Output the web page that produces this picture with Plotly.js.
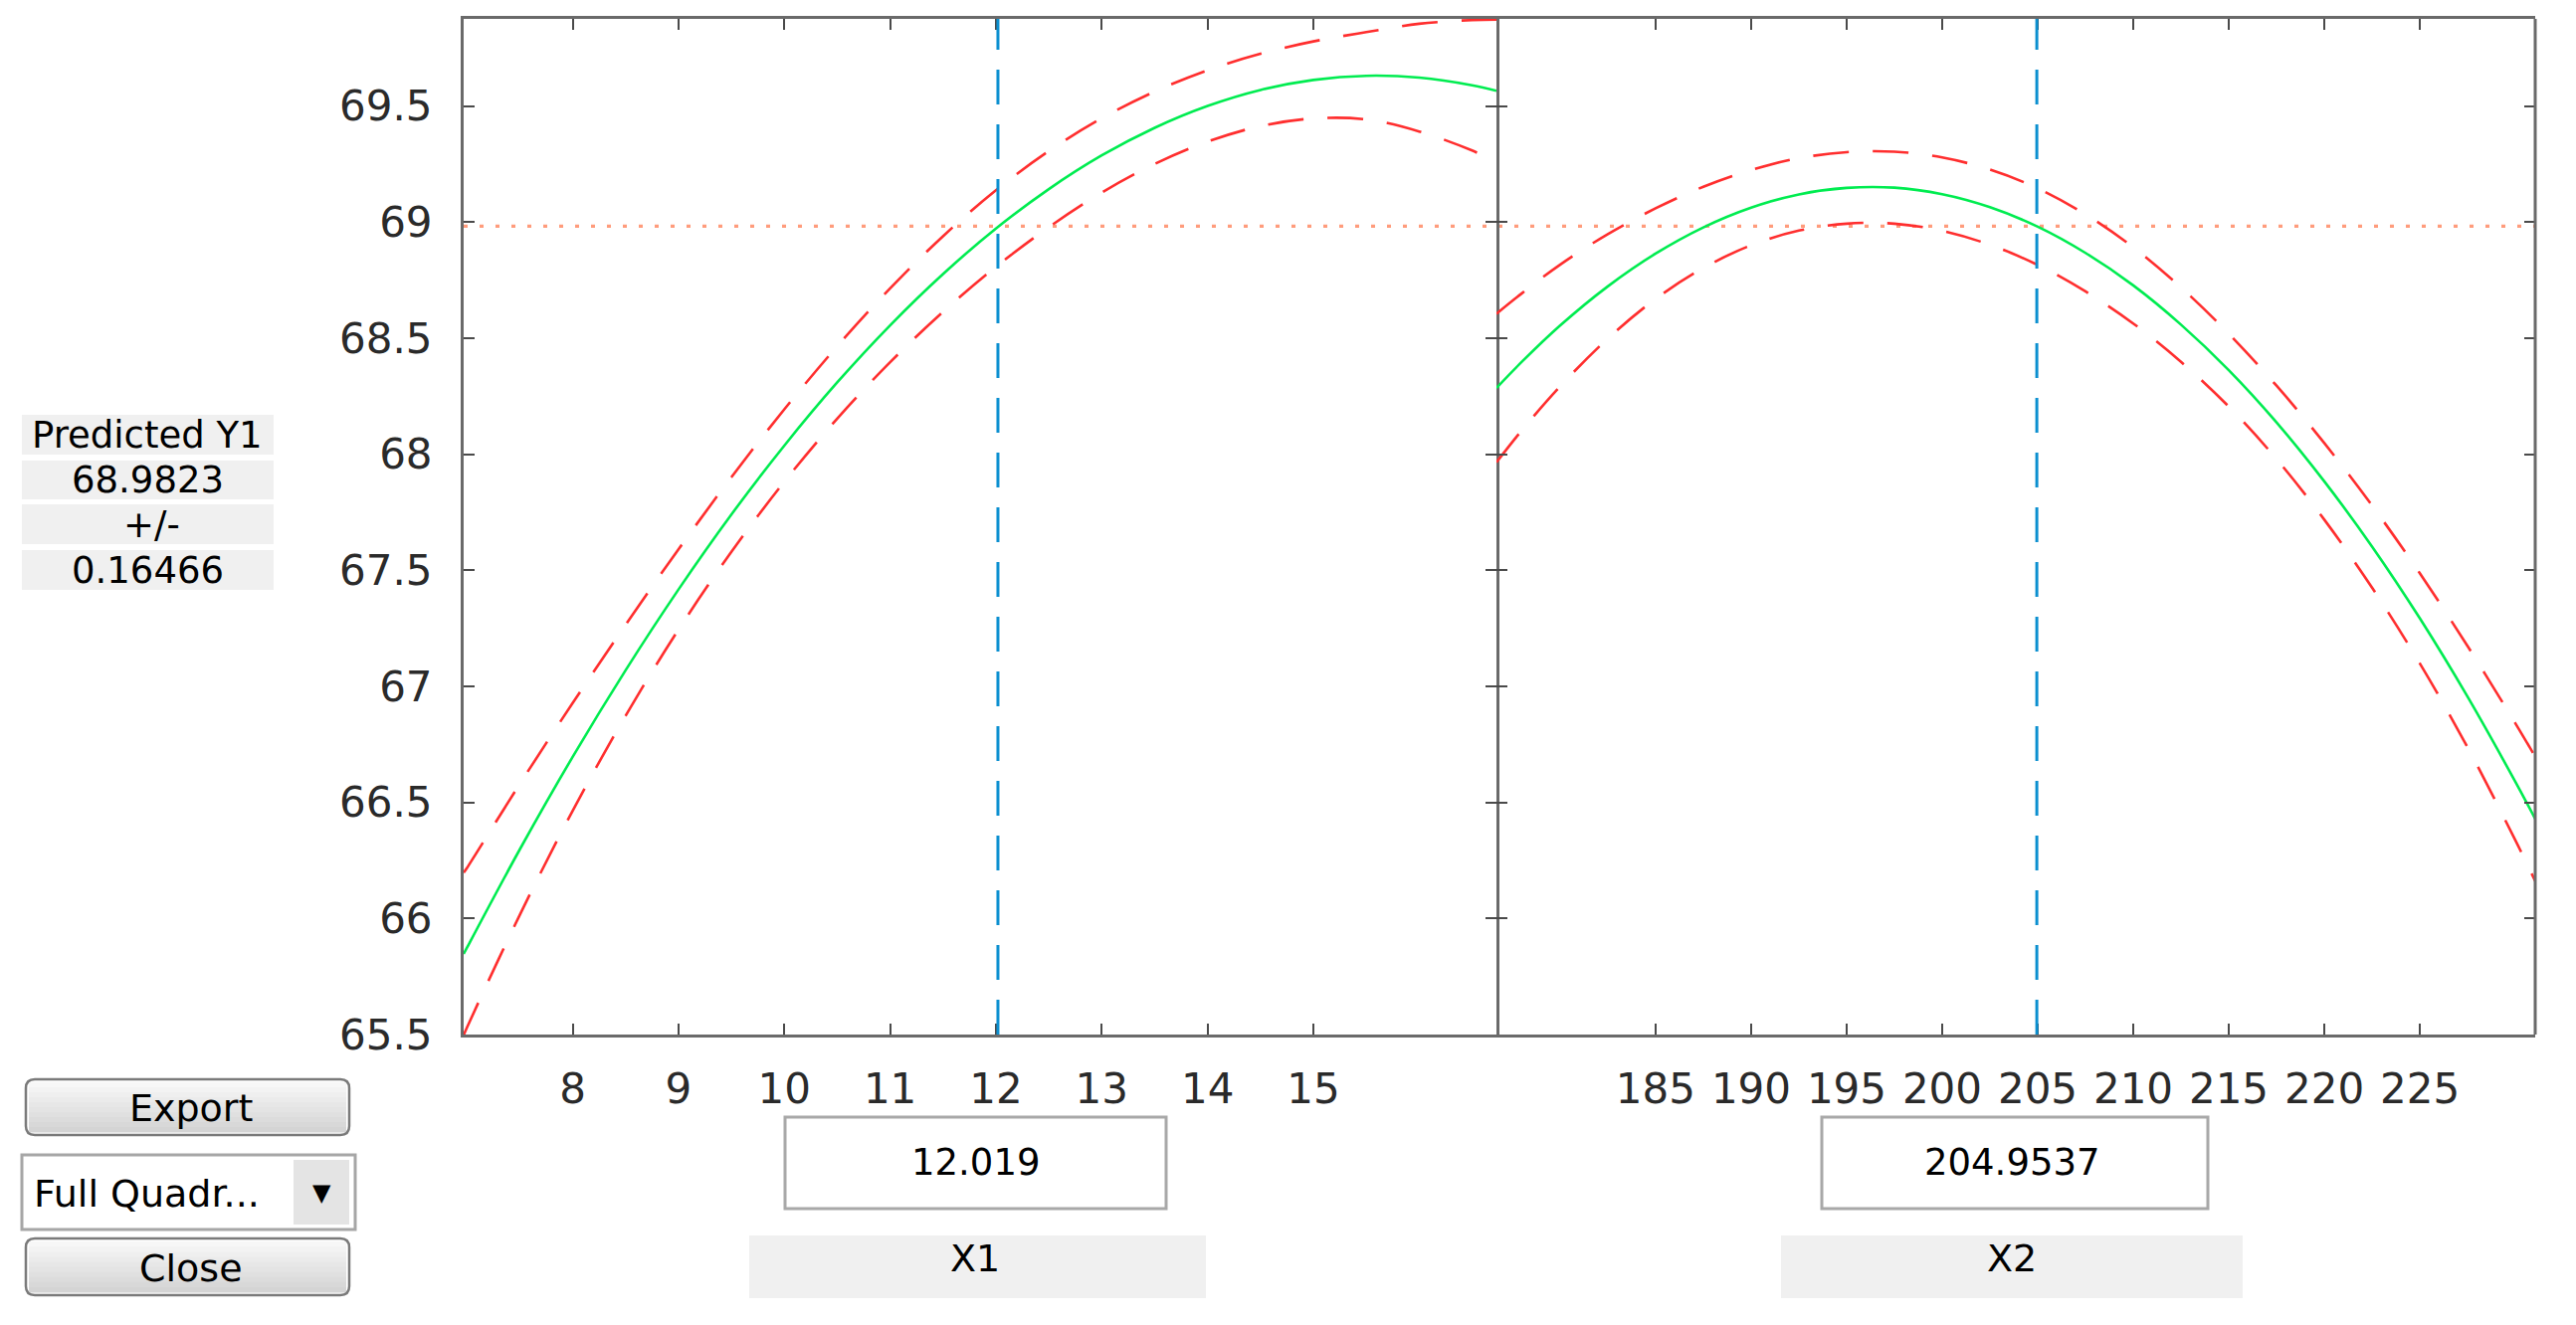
<!DOCTYPE html>
<html>
<head>
<meta charset="utf-8">
<script src="https://cdn.plot.ly/plotly-3.0.1.min.js"></script>
<style>html,body{margin:0;padding:0;background:#fff;}#chart{width:2589px;height:1332px;}</style>
</head>
<body>
<div id="chart"></div>
<script>
// ---------------- data ----------------
const x1Vals  = [6.97, 7, 7.5, 8, 8.5, 9, 9.5, 10, 10.5, 11, 11.5, 12, 12.5, 13, 13.5, 14, 14.5, 15, 15.5, 16, 16.5, 16.73];
const x1Mean  = [65.847, 65.873, 66.297, 66.696, 67.069, 67.417, 67.740, 68.037, 68.309, 68.555, 68.776, 68.972, 69.142, 69.287, 69.406, 69.500, 69.569, 69.612, 69.630, 69.622, 69.589, 69.565];
const x1Upper = [66.197, 66.217, 66.579, 66.928, 67.265, 67.590, 67.901, 68.193, 68.465, 68.714, 68.939, 69.137, 69.306, 69.447, 69.562, 69.654, 69.725, 69.778, 69.818, 69.854, 69.870, 69.872];
const x1Lower = [65.497, 65.529, 66.015, 66.464, 66.873, 67.244, 67.579, 67.881, 68.153, 68.396, 68.613, 68.807, 68.978, 69.127, 69.250, 69.346, 69.413, 69.446, 69.442, 69.390, 69.308, 69.258];

const x2Vals  = [176.67, 178, 180, 182.5, 185, 187.5, 190, 192.5, 195, 197.5, 200, 202.5, 205, 207.5, 210, 212.5, 215, 217.5, 220, 222.5, 225, 227.5, 230, 231.04];
const x2Mean  = [68.285, 68.398, 68.554, 68.723, 68.864, 68.977, 69.062, 69.119, 69.147, 69.148, 69.120, 69.064, 68.980, 68.867, 68.727, 68.558, 68.362, 68.137, 67.883, 67.602, 67.293, 66.955, 66.589, 66.429];
const x2Upper = [68.605, 68.693, 68.816, 68.948, 69.059, 69.152, 69.224, 69.275, 69.301, 69.303, 69.278, 69.226, 69.145, 69.033, 68.891, 68.718, 68.519, 68.295, 68.048, 67.779, 67.487, 67.173, 66.841, 66.697];
const x2Lower = [67.965, 68.103, 68.292, 68.498, 68.669, 68.802, 68.900, 68.963, 68.993, 68.993, 68.962, 68.902, 68.815, 68.701, 68.563, 68.398, 68.205, 67.979, 67.718, 67.425, 67.099, 66.737, 66.337, 66.161];

const x1Range = [6.97, 16.73];
const x2Range = [176.67, 231.04];
const yRange  = [65.5, 69.875];
const x1Ticks = [8, 9, 10, 11, 12, 13, 14, 15];
const x2Ticks = [185, 190, 195, 200, 205, 210, 215, 220, 225];
const yTicks  = [65.5, 66, 66.5, 67, 67.5, 68, 68.5, 69, 69.5];

const x1Setting = 12.019;
const x2Setting = 204.9537;
const predictedY = 68.9823;
const halfWidth = 0.16466;
const factorNames = ["X1", "X2"];
const responseName = "Predicted Y1";
const modelName = "Full Quadr...";

// ---------------- layout helpers (pixel -> paper) ----------------
const PL = 466, PR = 2548, PT = 19, PB = 1040;
const P = x => (x - PL) / (PR - PL);
const Q = y => (PB - y) / (PB - PT);

const FONT = "DejaVu Sans, Verdana, sans-serif";
const shapes = [];
const annotations = [];

function rect(x0, y0, x1, y1, fill, lineColor, lw) {
  shapes.push({type: 'rect', xref: 'paper', yref: 'paper', layer: 'above',
    x0: P(x0), x1: P(x1), y0: Q(y1), y1: Q(y0),
    fillcolor: fill, line: {color: lineColor || fill, width: lw || 0}});
}
function roundRect(x0, y0, x1, y1, r, fill, lineColor, lw) {
  const rx = r / (PR - PL), ry = r / (PB - PT);
  const a = P(x0), b = P(x1), top = Q(y0), bot = Q(y1);
  const path = `M ${a+rx},${top} L ${b-rx},${top} Q ${b},${top} ${b},${top-ry} L ${b},${bot+ry} Q ${b},${bot} ${b-rx},${bot} ` +
               `L ${a+rx},${bot} Q ${a},${bot} ${a},${bot+ry} L ${a},${top-ry} Q ${a},${top} ${a+rx},${top} Z`;
  shapes.push({type: 'path', xref: 'paper', yref: 'paper', layer: 'above', path: path,
    fillcolor: fill, line: {color: lineColor, width: lw}});
}
function gradientButton(x0, y0, x1, y1) {
  const n = 10;
  const c0 = [247, 247, 247], c1 = [212, 212, 212];
  for (let i = 0; i < n; i++) {
    const t = i / (n - 1);
    const c = c0.map((v, k) => Math.round(v + (c1[k] - v) * t));
    const ya = y0 + 3 + (y1 - y0 - 6) * i / n, yb = y0 + 3 + (y1 - y0 - 6) * (i + 1) / n;
    rect(x0 + 3, ya, x1 - 3, yb + 0.5, `rgb(${c[0]},${c[1]},${c[2]})`);
  }
  roundRect(x0, y0, x1, y1, 9, 'rgba(0,0,0,0)', '#7a7a7a', 2.5);
}
function txt(text, x, y, size, xanchor, color) {
  annotations.push({text: text, xref: 'paper', yref: 'paper', x: P(x), y: Q(y),
    xanchor: xanchor || 'center', yanchor: 'middle', showarrow: false,
    font: {family: FONT, size: size, color: color || '#000'}});
}

// ---- left info panel ----
rect(22, 417, 275, 457, '#f0f0f0');
rect(22, 463, 275, 502, '#f0f0f0');
rect(22, 507, 275, 547, '#f0f0f0');
rect(22, 553, 275, 593, '#f0f0f0');
txt(responseName, 148, 437, 37);
txt(String(predictedY), 148, 482, 37);
txt('+/-', 152, 527, 37);
txt(String(halfWidth), 148, 573, 37);

// ---- buttons / dropdown ----
gradientButton(26, 1085, 351, 1141);
txt('Export', 192, 1114, 38);
rect(22, 1161, 357, 1236, '#ffffff', '#a6a6a6', 3);
rect(295, 1166, 351, 1231, '#e4e4e4');
txt(modelName, 32, 1200, 38, 'left');
txt('\u25BC', 323, 1199, 24);
gradientButton(26, 1245, 351, 1302);
txt('Close', 192, 1275, 38);

// ---- factor setting boxes ----
rect(789, 1123, 1172, 1215, '#ffffff', '#a8a8a8', 3);
rect(753, 1242, 1212, 1305, '#f0f0f0');
txt(String(x1Setting), 980, 1168, 37);
txt(factorNames[0], 980, 1265, 38);

rect(1831, 1123, 2219, 1215, '#ffffff', '#a8a8a8', 3);
rect(1790, 1242, 2254, 1305, '#f0f0f0');
txt(String(x2Setting), 2022, 1168, 37);
txt(factorNames[1], 2022, 1265, 38);

// ---- reference lines through library scales ----
shapes.push({type: 'line', xref: 'paper', yref: 'y', x0: 0, x1: 1, y0: predictedY, y1: predictedY,
  layer: 'below', line: {color: '#ff9c7c', width: 3.4, dash: '4px,12px'}});
shapes.push({type: 'line', xref: 'x', yref: 'paper', x0: x1Setting, x1: x1Setting, y0: 0, y1: 1,
  line: {color: '#0b8fd0', width: 3, dash: '35px,20px'}});
shapes.push({type: 'line', xref: 'x2', yref: 'paper', x0: x2Setting, x1: x2Setting, y0: 0, y1: 1,
  line: {color: '#0b8fd0', width: 3, dash: '35px,20px'}});
// right border of the right panel (its y-axis line is hidden so the shared border stays thin)
shapes.push({type: 'line', xref: 'paper', yref: 'paper', x0: 1, x1: 1, y0: 0, y1: 1,
  line: {color: '#6a6a6a', width: 3}});

// ---------------- traces ----------------
const GREEN = '#00ec50', RED = '#ff2e2e';
const meanLine = {color: GREEN, width: 2.6, shape: 'spline', smoothing: 1};
const ciLine = {color: RED, width: 2.6, dash: '36px,24px', shape: 'spline', smoothing: 1};
const traces = [
  {x: x1Vals, y: x1Upper, mode: 'lines', line: ciLine, xaxis: 'x', yaxis: 'y'},
  {x: x1Vals, y: x1Lower, mode: 'lines', line: ciLine, xaxis: 'x', yaxis: 'y'},
  {x: x1Vals, y: x1Mean, mode: 'lines', line: meanLine, xaxis: 'x', yaxis: 'y'},
  {x: x2Vals, y: x2Upper, mode: 'lines', line: ciLine, xaxis: 'x2', yaxis: 'y2'},
  {x: x2Vals, y: x2Lower, mode: 'lines', line: ciLine, xaxis: 'x2', yaxis: 'y2'},
  {x: x2Vals, y: x2Mean, mode: 'lines', line: meanLine, xaxis: 'x2', yaxis: 'y2'}
];

const split = (1504 - PL) / (PR - PL);
const axCommon = {
  showgrid: false, zeroline: false, showline: true, linecolor: '#6a6a6a', linewidth: 3,
  mirror: 'ticks', ticks: 'inside', ticklen: 11, tickwidth: 2, tickcolor: '#4a4a4a',
  tickfont: {family: FONT, size: 42, color: '#2a2a2a'}, fixedrange: true
};
const layout = {
  width: 2589, height: 1332,
  margin: {l: PL, r: 2589 - PR, t: PT, b: 1332 - PB, pad: 0},
  paper_bgcolor: '#ffffff', plot_bgcolor: '#ffffff',
  showlegend: false,
  xaxis: Object.assign({}, axCommon, {domain: [0, split], range: x1Range, tickmode: 'array', tickvals: x1Ticks, anchor: 'y', ticklabelstandoff: 16}),
  xaxis2: Object.assign({}, axCommon, {domain: [split, 1], range: x2Range, tickmode: 'array', tickvals: x2Ticks, anchor: 'y2', ticklabelstandoff: 16}),
  yaxis: Object.assign({}, axCommon, {range: yRange, tickmode: 'array', tickvals: yTicks, anchor: 'x', ticklabelstandoff: 20}),
  yaxis2: Object.assign({}, axCommon, {range: yRange, tickmode: 'array', tickvals: yTicks, anchor: 'x2', showticklabels: false, showline: false}),
  shapes: shapes,
  annotations: annotations,
  hovermode: false
};
Plotly.newPlot('chart', traces, layout, {displayModeBar: false, staticPlot: true});
</script>
</body>
</html>
